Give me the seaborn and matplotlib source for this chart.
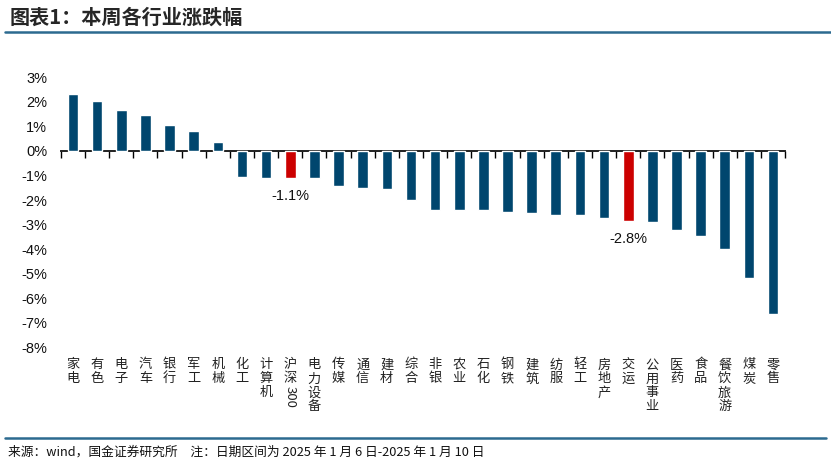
import matplotlib
matplotlib.use("Agg")
import matplotlib.pyplot as plt
import matplotlib.lines as mlines
import seaborn as sns
import pandas as pd
import numpy as np

categories = ["家电", "有色", "电子", "汽车", "银行", "军工", "机械", "化工", "计算机", "沪深300",
              "电力设备", "传媒", "通信", "建材", "综合", "非银", "农业", "石化", "钢铁", "建筑",
              "纺服", "轻工", "房地产", "交运", "公用事业", "医药", "食品", "餐饮旅游", "煤炭", "零售"]
values = [2.34, 2.02, 1.67, 1.47, 1.05, 0.80, 0.37, -1.07, -1.12, -1.12,
          -1.12, -1.43, -1.49, -1.56, -1.98, -2.42, -2.42, -2.42, -2.47, -2.53,
          -2.60, -2.60, -2.72, -2.84, -2.90, -3.21, -3.45, -4.00, -5.17, -6.64]
highlight = {"沪深300": "-1.1%", "交运": "-2.8%"}
ytick_vals = [3, 2, 1, 0, -1, -2, -3, -4, -5, -6, -7, -8]

BLUE = "#00466E"
RED = "#CC0000"
LINE = "#2C6A90"

df = pd.DataFrame({"cat": categories, "val": values})
colors = [RED if c in highlight else BLUE for c in df["cat"]]

sns.set_theme(style="white")
plt.rcParams["font.family"] = ["Liberation Sans", "Noto Sans CJK SC", "DejaVu Sans"]

fig = plt.figure(figsize=(8.31, 4.67), dpi=100)
n = len(df)
step = 24.14
left_px, right_px = 73 - step / 2, 73 + step * (n - 0.5)
top_px, bot_px = 77.3, 347.3
W, H = 831, 467
ax = fig.add_axes([left_px / W, 1 - bot_px / H, (right_px - left_px) / W, (bot_px - top_px) / H])

sns.barplot(data=df, x="cat", y="val", hue="cat", palette=colors, legend=False,
            width=0.44, saturation=1, ax=ax)

ax.set_xlim(-0.5, n - 0.5)
ax.set_ylim(-8, 3)
ax.set_xlabel("")
ax.set_ylabel("")
for s in ax.spines.values():
    s.set_visible(False)

ax.set_yticks(ytick_vals)
ax.set_yticklabels([f"{v}%" for v in ytick_vals], fontsize=10.5, color="#111111")
ax.tick_params(axis="y", length=0, pad=10)

# category labels: stacked vertical characters
labels = []
for c in df["cat"]:
    if c == "沪深300":
        labels.append("沪\n深")
    else:
        labels.append("\n".join(list(c)))
ax.set_xticks(range(n))
ax.set_xticklabels(labels, fontsize=9.5, family=["Noto Sans CJK SC"], color="#222222",
                   linespacing=1.1, va="top")
ax.tick_params(axis="x", length=0, pad=8)
i300 = list(df["cat"]).index("沪深300")
ax.text(i300, -0.145, "300", transform=ax.get_xaxis_transform(), rotation=-90,
        ha="center", va="top", fontsize=9.5, family=["Noto Sans CJK SC"], color="#222222")

# zero axis with boundary ticks
zero_frac = (0 - (-8)) / (3 - (-8))
sec = ax.secondary_xaxis(zero_frac)
sec.spines["bottom"].set_visible(True)
sec.spines["bottom"].set_color("black")
sec.spines["bottom"].set_linewidth(1.2)
sec.set_xticks(np.arange(-0.5, n, 1.0))
sec.tick_params(axis="x", direction="in", length=5, width=1, color="black",
                labelbottom=False, labeltop=False)

# value annotations
for i, c in enumerate(df["cat"]):
    if c in highlight:
        ax.annotate(highlight[c], (i, df["val"][i]), xytext=(0, -13), textcoords="offset points",
                    ha="center", va="center", fontsize=10.5, color="#111111")

# title, lines, footer
fig.text(10 / W, 1 - 17 / H, "图表1：本周各行业涨跌幅", fontsize=14.5, fontweight="bold",
         family=["Noto Sans CJK SC"], va="center", ha="left")
fig.add_artist(mlines.Line2D([5 / W, 1.0], [1 - 32 / H] * 2, color=LINE, lw=1.8))
fig.add_artist(mlines.Line2D([5 / W, 826 / W], [1 - 438 / H] * 2, color=LINE, lw=1.8))
fig.text(8 / W, 1 - 452 / H,
         "来源：wind，国金证券研究所　注：日期区间为 2025 年 1 月 6 日-2025 年 1 月 10 日",
         fontsize=9.2, family=["Noto Sans CJK SC", "DejaVu Sans"], va="center", ha="left",
         color="#111111")

fig.savefig("out.png", dpi=100)
